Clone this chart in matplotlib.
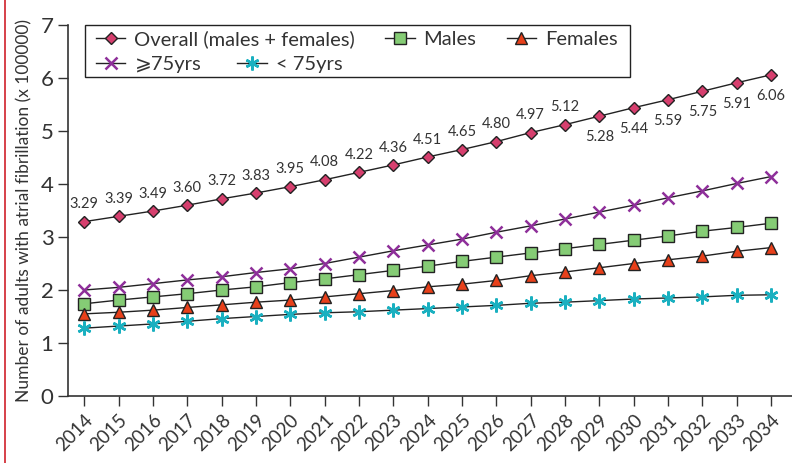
import matplotlib.pyplot as plt
from matplotlib.lines import Line2D
from matplotlib.patches import Rectangle

years = list(range(2014, 2035))
overall = [3.29, 3.39, 3.49, 3.60, 3.72, 3.83, 3.95, 4.08, 4.22, 4.36, 4.51,
           4.65, 4.80, 4.97, 5.12, 5.28, 5.44, 5.59, 5.75, 5.91, 6.06]
males = [1.74, 1.81, 1.87, 1.93, 2.00, 2.06, 2.14, 2.21, 2.29, 2.37, 2.45,
         2.54, 2.62, 2.70, 2.78, 2.86, 2.94, 3.02, 3.11, 3.18, 3.26]
females = [1.55, 1.58, 1.62, 1.67, 1.72, 1.77, 1.81, 1.87, 1.93, 1.99, 2.06,
           2.11, 2.18, 2.27, 2.34, 2.42, 2.50, 2.57, 2.64, 2.73, 2.80]
over75 = [2.00, 2.05, 2.12, 2.19, 2.25, 2.33, 2.40, 2.50, 2.62, 2.74, 2.85,
          2.96, 3.09, 3.21, 3.34, 3.47, 3.60, 3.74, 3.87, 4.01, 4.14]
under75 = [1.28, 1.32, 1.36, 1.41, 1.46, 1.50, 1.54, 1.57, 1.59, 1.62, 1.65,
           1.68, 1.71, 1.75, 1.77, 1.80, 1.83, 1.85, 1.87, 1.90, 1.91]

plt.rcParams['font.family'] = ['Lato', 'DejaVu Sans']
txt = '#333333'
line_c = '#222222'

fig = plt.figure(figsize=(7.92, 4.63), dpi=100)
ax = fig.add_axes([0.086, 0.1447, 0.914, 0.8013])

h_all, = ax.plot(years, overall, '-', color=line_c, lw=1.0, marker='D', ms=6.5,
                 mfc='#d63f6e', mec='#222222', mew=1.0,
                 label='Overall (males + females)')
h_m, = ax.plot(years, males, '-', color=line_c, lw=1.0, marker='s', ms=8.5,
               mfc='#85cc75', mec='#222222', mew=1.0, label='Males')
h_f, = ax.plot(years, females, '-', color=line_c, lw=1.0, marker='^', ms=9,
               mfc='#e8401a', mec='#222222', mew=1.0, label='Females')
h_o, = ax.plot(years, over75, '-', color=line_c, lw=1.0, marker='x', ms=9,
               mec='#8e2f9a', mew=1.8, label='\u2a7e75yrs')
h_u, = ax.plot(years, under75, '-', color=line_c, lw=1.0, marker=(6, 2, 0),
               ms=10, mec='#1ab0c0', mew=1.8, label='< 75yrs')

for x, y in zip(years, overall):
    off = 12.5 if x <= 2028 else -15
    ax.annotate(f'{y:.2f}', (x, y), xytext=(0, off), textcoords='offset points',
                ha='center', va='center', fontsize=10.5, color=txt)

ax.set_xlim(2013.53, 2034.61)
ax.set_ylim(0, 7)
ax.set_xticks(years)
ax.set_xticklabels([str(y) for y in years], rotation=45, ha='right',
                   rotation_mode='anchor')
ax.set_yticks(range(0, 8))
ax.tick_params(direction='out', length=7, width=1, colors=txt, labelsize=16)
ax.tick_params(axis='x', labelsize=13.5, pad=4)
for s in ['top', 'right']:
    ax.spines[s].set_visible(False)
for s in ['left', 'bottom']:
    ax.spines[s].set_color(txt)
    ax.spines[s].set_linewidth(1.2)

ax.set_ylabel('Number of adults with atrial fibrillation (x 100000)',
              fontsize=12.5, color=txt, labelpad=6)

# legend: two rows that flow like the original, inside one drawn frame
leg_kw = dict(loc='upper left', frameon=False, fontsize=14.5, borderpad=0,
              borderaxespad=0, handlelength=1.45, handletextpad=0.45)
leg1 = ax.legend(handles=[h_all, h_m, h_f], ncol=3, columnspacing=1.5,
                 bbox_to_anchor=(0.0387, 0.9865), **leg_kw)
for t in leg1.get_texts():
    t.set_color(txt)
ax.add_artist(leg1)
leg2 = ax.legend(handles=[h_o, h_u], ncol=2, columnspacing=1.8,
                 bbox_to_anchor=(0.0387, 0.9164), **leg_kw)
for t in leg2.get_texts():
    t.set_color(txt)
ax.add_patch(Rectangle((0.0235, 0.860), 0.7525, 0.14, transform=ax.transAxes,
                       fill=False, ec='#222222', lw=1.0, clip_on=False))

fig.add_artist(Line2D([0.006, 0.006], [0, 1], color='#d0202a', lw=1.2,
                      transform=fig.transFigure))

plt.savefig('out.png', dpi=100)
